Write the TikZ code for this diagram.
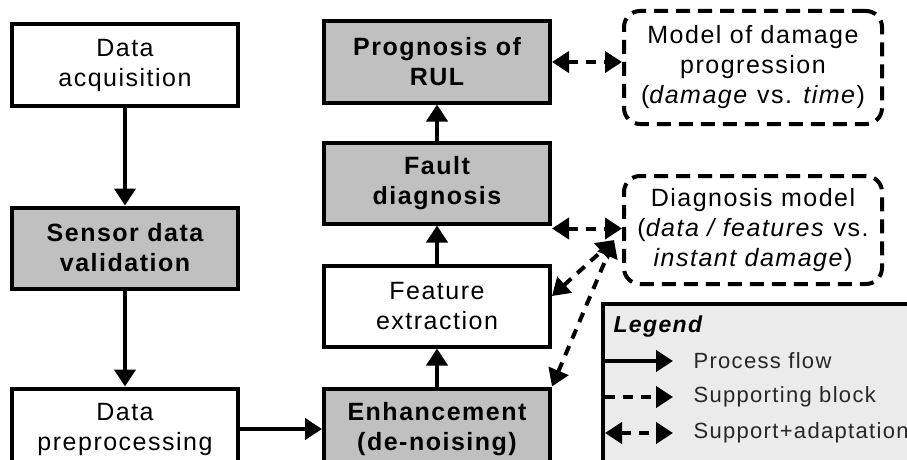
\documentclass[tikz,border=0pt]{standalone}
\usepackage{fontspec}
\setmainfont[LetterSpace=6]{Liberation Sans}
\usetikzlibrary{arrows.meta,positioning}
\definecolor{blockgray}{RGB}{192,192,192}
\definecolor{legendgray}{RGB}{235,235,235}
\tikzset{
  procbox/.style={draw, line width=4pt, fill=white, align=center,
    minimum width=226pt, minimum height=81pt, font=\fontsize{25}{30}\selectfont},
  keybox/.style={procbox, fill=blockgray, font=\fontsize{25}{30}\selectfont\bfseries},
  modelbox/.style={draw, line width=4pt, dash pattern=on 14pt off 8pt,
    rounded corners=16pt, align=center, minimum width=258pt,
    font=\fontsize{25}{30}\selectfont},
  legtext/.style={anchor=west, text=black!85, font=\fontsize{22}{26}\selectfont}
}

\begin{document}
\begin{tikzpicture}[
  x=1pt, y=-1pt,
  node distance=38pt,
  flow/.style={line width=4pt, -{Triangle[length=17pt,width=21pt]}},
  support/.style={line width=4pt, dash pattern=on 10pt off 8pt,
    -{Triangle[length=17pt,width=21pt]}},
  adapt/.style={line width=4pt, dash pattern=on 10pt off 8pt,
    {Triangle[length=17pt,width=21pt]}-{Triangle[length=17pt,width=21pt]}}
]
\useasboundingbox (0,0) rectangle (907,460);
\clip (0,0) rectangle (907,460);

\node[procbox] (acq) at (125,65) {Data\\acquisition};
\node[keybox, below=98pt of acq] (valid) {Sensor data\\validation};
\node[procbox, below=96pt of valid] (prep) {Data\\preprocessing};

\node[keybox, right=82pt of prep] (enh) {Enhancement\\(de-noising)};
\node[procbox, above=of enh] (feat) {Feature\\extraction};
\node[keybox, above=of feat] (fault) {Fault\\diagnosis};
\node[keybox, above=36pt of fault] (prog) {Prognosis of\\RUL};

\node[modelbox, minimum height=113pt] (dmg) at (753,67.5)
  {Model of damage\\progression\\(\textit{damage} vs. \textit{time})};
\node[modelbox, minimum height=108pt] (diag) at (753,230)
  {Diagnosis model\\(\textit{data / features} vs.\\\textit{instant damage})};

\draw[flow] (acq) -- (valid);
\draw[flow] (valid) -- (prep);
\draw[flow] (prep) -- (enh);
\draw[flow] (enh) -- (feat);
\draw[flow] (feat) -- (fault);
\draw[flow] (fault) -- (prog);

\coordinate (hub) at ([shift={(-8pt,-10pt)}]diag.west);
\draw[adapt] (prog.east) -- (prog.east -| dmg.west);
\draw[adapt] ([yshift=-3pt]fault.south east) -- ([yshift=-3pt]fault.south east -| diag.west);
\draw[adapt] ([yshift=10pt]feat.east) -- (hub);
\draw[adapt] (enh.north east) -- (hub);

\node[draw, line width=4pt, fill=legendgray, anchor=north west,
  minimum width=312pt, minimum height=165pt] (legend) at (601,302) {};
\node[anchor=base west, font=\fontsize{23}{26}\selectfont\bfseries\itshape]
  (legtitle) at (610,332) {Legend};
\coordinate (pfa) at (605,361);
\coordinate (pfb) at (673,361);
\coordinate (sba) at (605,397);
\coordinate (sbb) at (673,397);
\coordinate (saa) at (605,433);
\coordinate (sab) at (673,433);
\draw[flow] (pfa) -- (pfb);
\draw[support] (sba) -- (sbb);
\draw[adapt] (saa) -- (sab);
\node[legtext] (pftext) at (690,361) {Process flow};
\node[legtext] (sbtext) at (690,397) {Supporting block};
\node[legtext] (satext) at (690,433) {Support+adaptation};
\end{tikzpicture}
\end{document}
